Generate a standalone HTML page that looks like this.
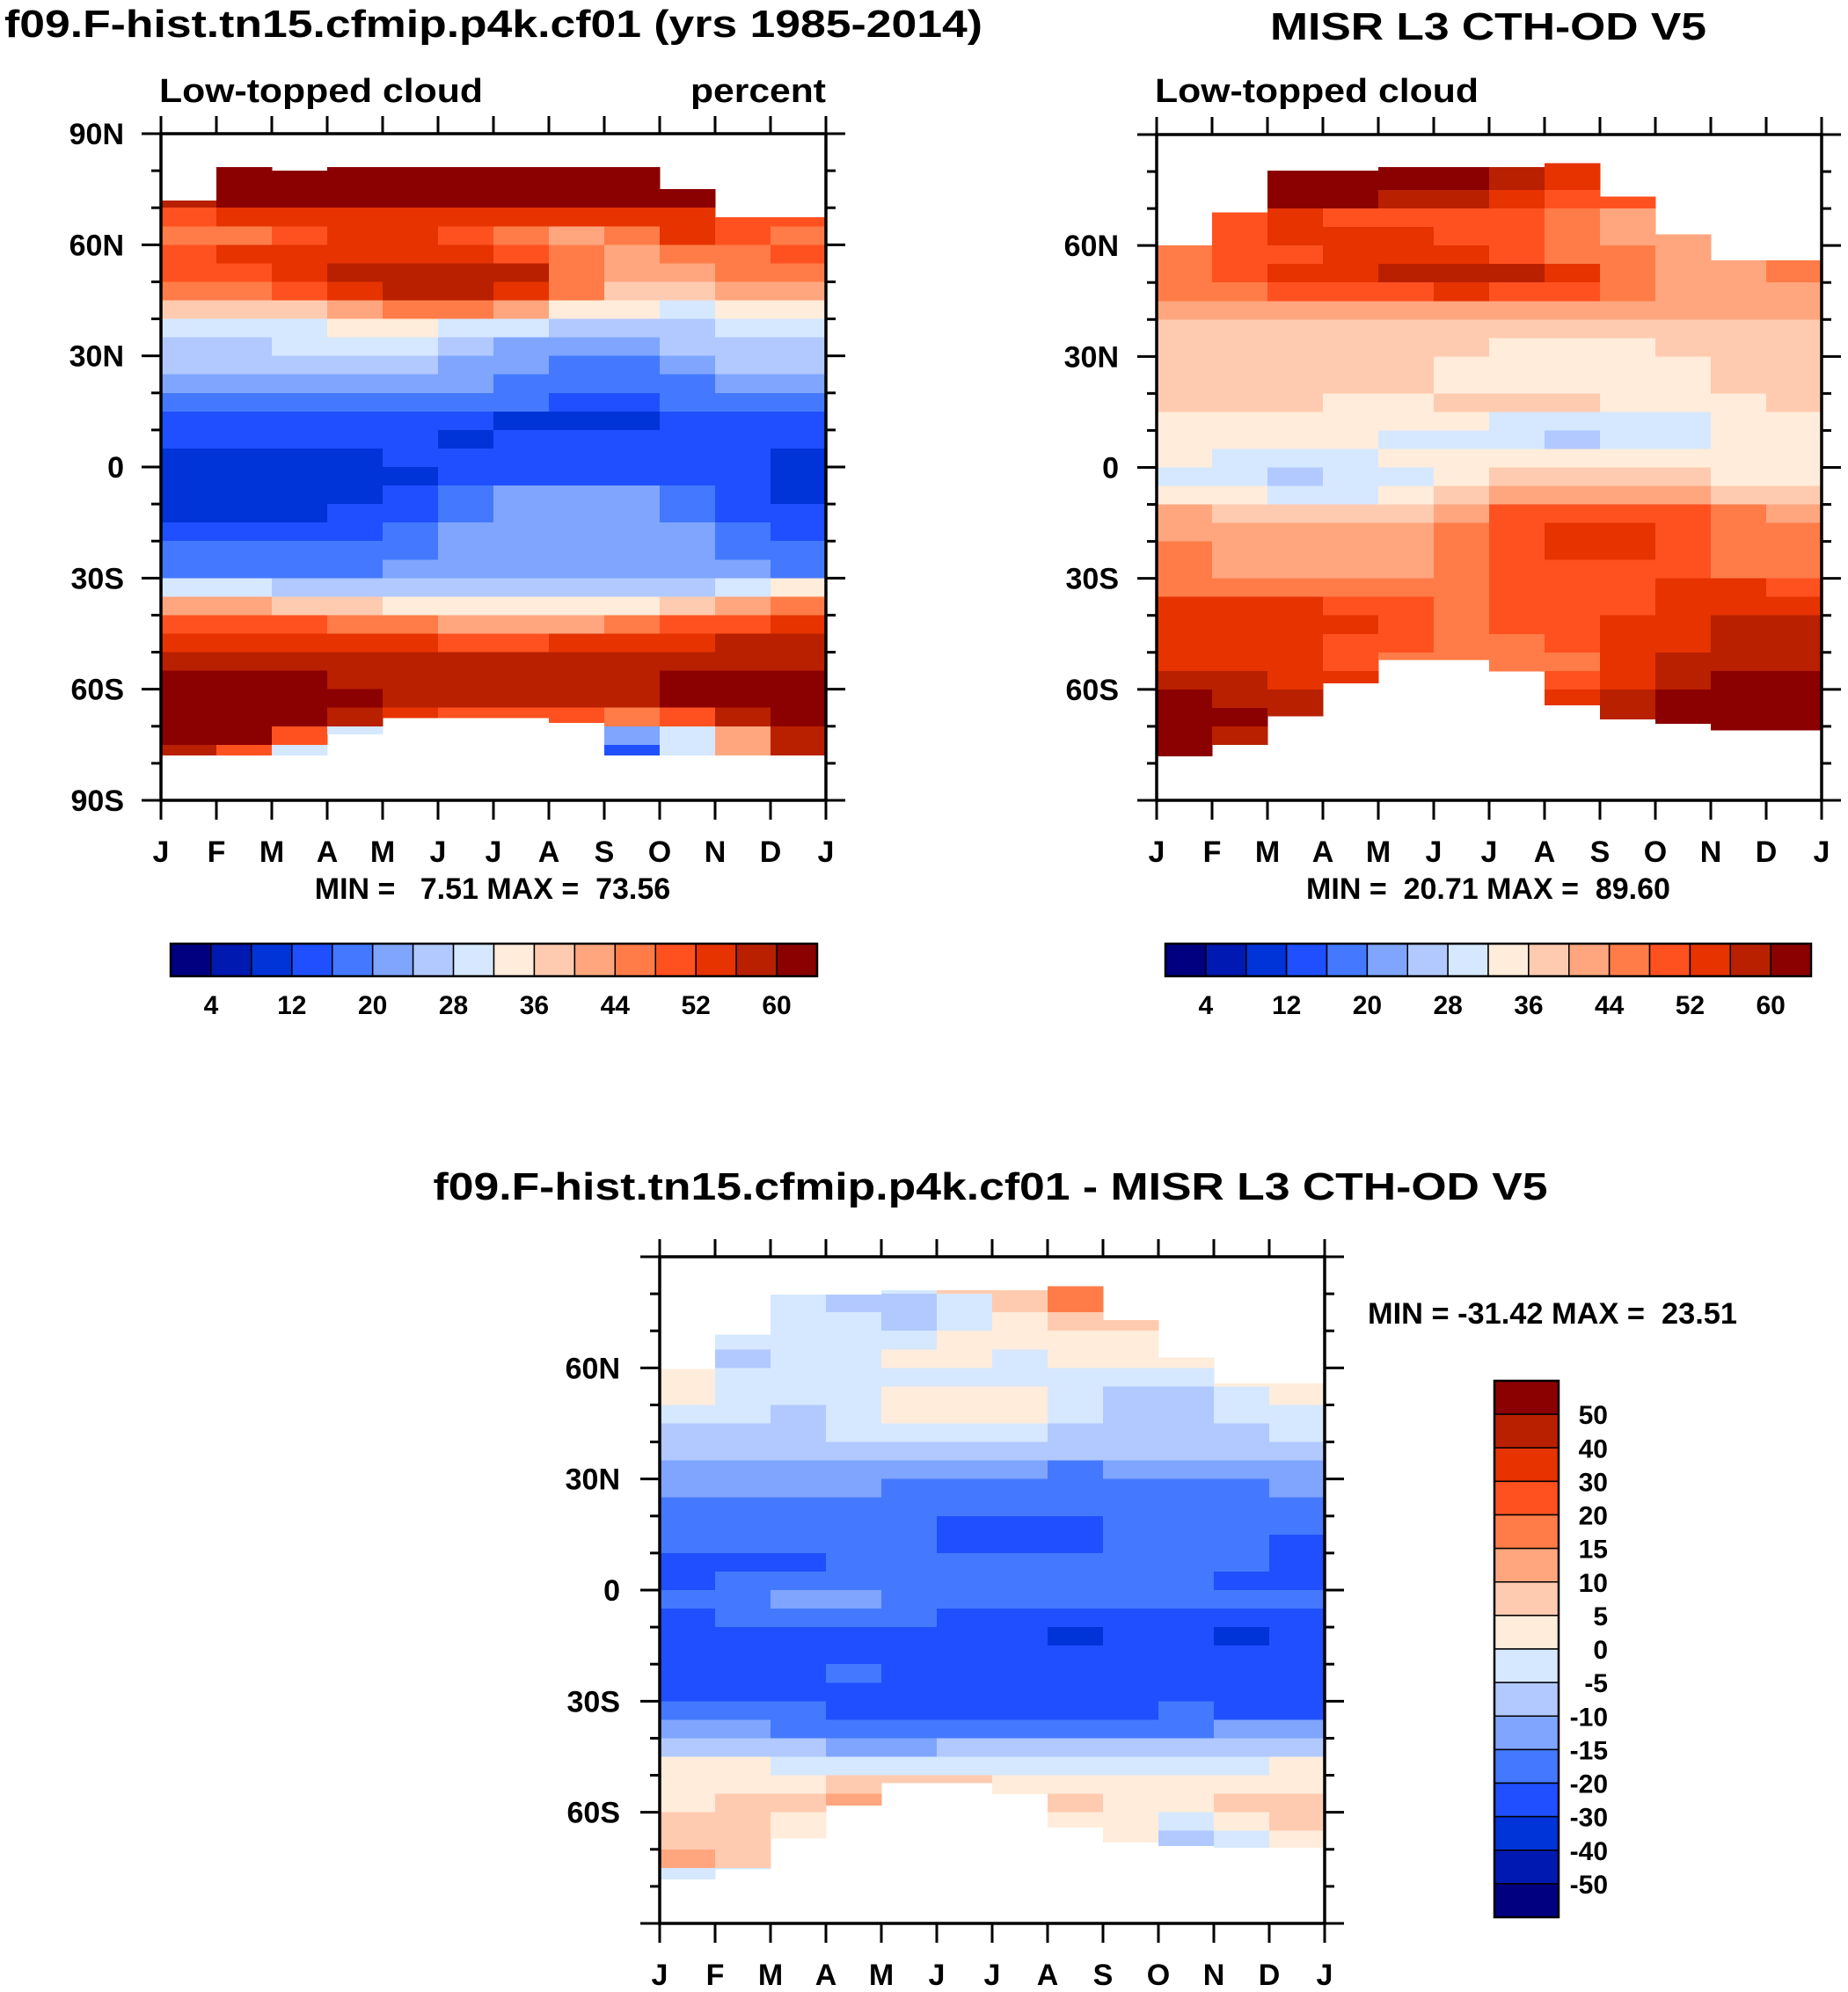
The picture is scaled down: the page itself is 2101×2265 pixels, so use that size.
<!DOCTYPE html>
<html><head><meta charset="utf-8"><style>
html,body{margin:0;padding:0;background:#fff}
svg{display:block;font-family:"Liberation Sans",sans-serif;font-weight:bold}
</style></head><body>
<svg id="root" width="2101" height="2265" viewBox="0 0 2101 2265">
<text x="5" y="42" font-size="44" textLength="1112" lengthAdjust="spacingAndGlyphs">f09.F-hist.tn15.cfmip.p4k.cf01 (yrs 1985-2014)</text>
<text x="1692" y="45" font-size="44" text-anchor="middle" textLength="496" lengthAdjust="spacingAndGlyphs">MISR L3 CTH-OD V5</text>
<text x="181" y="116" font-size="38" textLength="368" lengthAdjust="spacingAndGlyphs">Low-topped cloud</text>
<text x="939" y="116" font-size="38" text-anchor="end" textLength="154" lengthAdjust="spacingAndGlyphs">percent</text>
<text x="1313" y="116" font-size="38" textLength="368" lengthAdjust="spacingAndGlyphs">Low-topped cloud</text>
<text x="560" y="1022" font-size="34" text-anchor="middle" xml:space="preserve">MIN =   7.51 MAX =  73.56</text>
<text x="1692" y="1022" font-size="34" text-anchor="middle" xml:space="preserve">MIN =  20.71 MAX =  89.60</text>
<text x="1126" y="1364" font-size="44" text-anchor="middle" textLength="1267" lengthAdjust="spacingAndGlyphs">f09.F-hist.tn15.cfmip.p4k.cf01 - MISR L3 CTH-OD V5</text>
<text x="1555" y="1505" font-size="34" xml:space="preserve" textLength="420" lengthAdjust="spacingAndGlyphs">MIN = -31.42 MAX =  23.51</text>
</svg>
<script>
const palette=["#000080","#0019b0","#0033d8","#1f4fff","#4479ff","#7fa5ff","#b1c9ff","#d5e8ff","#ffecda","#ffcbb0","#ffa67f","#ff7c48","#ff5120","#e63300","#b82000","#8b0000"];
const months=["J","F","M","A","M","J","J","A","S","O","N","D","J"];
const latLabels=["90N","60N","30N","0","30S","60S","90S"];
const pctLevels=[4,8,12,16,20,24,28,32,36,40,44,48,52,56,60];
const diffLevels=[-50,-40,-30,-20,-15,-10,-5,0,5,10,15,20,30,40,50];
// rows: 5-degree bands from 90N (row 0) to 90S (row 35); 12 monthly columns
const modelTop=[72,81,80,81,81,81,81,81,81,75,67.5,67.5];
const modelBot=[-77.8,-77.8,-77.8,-72,-67.6,-67.6,-67.6,-69,-77.8,-77.8,-77.8,-77.8];
const modelGrid=[
[64,64,64,64,64,64,64,64,64,64,64,64],
[64,64,64,64,64,64,64,64,64,64,64,64],
[56,64,64,64,64,64,62,64,64,62,50,50],
[56,64,64,64,64,64,60,64,64,62,50,48],
[50,52,52,54,52,54,52,54,54,54,50,48],
[44,46,48,52,52,48,44,42,46,52,50,44],
[50,52,52,52,54,52,48,44,40,44,46,48],
[48,50,52,56,58,58,57,44,40,40,44,46],
[44,46,48,52,56,57,52,44,38,36,40,42],
[36,36,38,42,46,46,40,34,32,30,32,34],
[30,30,31,32,32,30,28,26,26,27,28,30],
[27,27,30,30,29,26,23,21,22,24,26,27],
[25,25,27,27,25,22,20,19,19,21,24,25],
[22,22,22,22,21,20,19,18,18,19,21,22],
[19,18,18,18,17,17,16,15,15,16,17,19],
[14,14,14,14,14,13,11,10,11,13,14,14],
[13,13,13,12,12,11,12,13,13,12,13,13],
[11,11,11,11,12,13,15,15,15,14,12,11],
[10,10,10,10,11,13,15,15,15,14,12,11],
[10,9,9,10,12,17,20,20,20,16,12,10],
[11,10,10,12,14,18,21,22,21,18,14,12],
[14,14,14,15,17,21,22,22,22,20,16,15],
[17,17,17,17,18,22,22,22,22,20,18,17],
[19,19,19,19,20,23,23,23,23,22,20,19],
[30,28,26,25,25,25,25,25,26,27,30,32],
[42,40,38,36,34,33,32,33,35,38,42,44],
[50,50,48,46,44,42,42,43,45,48,50,52],
[54,54,54,54,52,50,50,52,54,54,56,56],
[58,58,58,58,58,57,57,56,58,58,58,58],
[62,62,60,58,58,58,57,57,58,60,62,62],
[64,64,62,60,58,58,58,57,58,60,64,64],
[64,64,62,56,52,50,50,48,44,50,58,62],
[64,60,50,30,30,30,30,30,20,30,40,56],
[58,48,30,20,20,20,20,20,14,30,40,56],
[58,48,30,20,20,20,20,20,14,30,40,56],
[58,48,30,20,20,20,20,20,14,30,40,56]];
const obsTop=[60,69,80.3,80.3,81.2,81.2,81.2,82.3,73.2,63,56,56];
const obsBot=[-78,-74.9,-67.2,-58.2,-51.9,-51.9,-55,-64.2,-68,-69.2,-71,-71];
const obsGrid=[
[62,62,62,62,62,62,58,52,50,44,44,46],
[62,62,62,62,62,62,58,52,50,44,44,46],
[52,52,62,62,62,62,57,54,52,44,44,46],
[52,52,60,60,58,56,52,50,48,44,44,46],
[50,50,52,50,50,50,48,44,42,42,44,46],
[46,48,52,52,52,50,48,44,42,42,44,46],
[46,48,50,53,53,52,50,46,44,42,42,44],
[46,50,54,54,56,57,56,52,46,42,42,44],
[44,46,50,50,50,52,50,48,44,42,42,42],
[40,41,42,42,42,42,42,40,40,40,40,41],
[38,38,38,38,38,37,36,36,36,37,38,38],
[38,38,38,38,38,36,35,34,34,36,37,38],
[38,38,38,38,37,35,34,32,34,34,36,37],
[38,38,37,37,36,34,34,35,35,34,36,37],
[37,37,36,35,35,36,36,36,35,34,34,36],
[34,34,34,34,34,32,30,30,30,30,32,34],
[34,34,33,32,31,30,29,27,28,30,33,34],
[32,31,31,31,32,35,35,35,34,35,35,34],
[31,29,26,28,30,34,36,38,38,36,34,34],
[35,32,30,30,32,36,40,42,42,40,38,38],
[40,38,36,37,39,42,48,50,50,48,44,42],
[42,42,40,40,40,44,50,54,52,50,46,44],
[44,42,40,40,40,46,50,53,52,50,46,44],
[44,42,42,40,42,44,48,50,50,50,46,46],
[46,46,46,46,44,44,48,50,50,52,52,50],
[52,52,52,50,48,46,48,50,50,52,54,54],
[55,55,54,52,48,44,48,48,52,54,57,57],
[54,54,52,50,48,44,46,48,52,54,57,57],
[52,52,52,50,46,44,44,46,52,56,57,57],
[57,56,55,54,50,50,50,50,52,56,60,60],
[60,58,58,56,52,52,52,52,56,60,62,62],
[62,60,58,56,52,52,52,54,56,62,62,62],
[62,58,58,56,52,52,52,54,56,62,62,62],
[62,58,58,56,52,52,52,54,56,62,62,62],
[62,58,58,56,52,52,52,54,56,62,62,62],
[62,58,58,56,52,52,52,54,56,62,62,62]];
const diffTop=[59.7,69,79.8,79.8,81,81,81,82,72.9,62.8,55.8,55.8];
const diffBot=[-78,-75.2,-66.9,-58,-52,-52,-55,-64,-68,-69,-69.4,-69.4];
const diffGrid=[
[0,0,-3,-5,-3,5,8,18,0,0,0,0],
[0,0,-3,-5,-3,5,8,18,0,0,0,0],
[0,0,-3,-6,-7,-2,8,15,6,0,0,0],
[0,0,-3,-4,-8,-2,3,8,6,0,0,0],
[0,-3,-3,-3,-4,2,3,3,3,0,0,0],
[0,-7,-4,-2,2,2,-2,1,2,4,0,0],
[2,-3,-3,-3,-3,-3,-2,-3,-2,-2,2,3],
[3,-1,-3,-4,2,3,2,-2,-6,-6,-2,3],
[-3,-3,-6,-3,1,3,2,-3,-7,-7,-4,-2],
[-6,-6,-8,-5,-3,-2,-3,-6,-8,-7,-6,-4],
[-8,-9,-8,-9,-6,-7,-9,-10,-8,-7,-8,-8],
[-13,-12,-11,-11,-12,-12,-11,-16,-13,-12,-12,-12],
[-14,-14,-15,-15,-16,-17,-17,-16,-18,-17,-16,-14],
[-17,-17,-17,-17,-17,-18,-18,-18,-18,-18,-18,-18],
[-18,-18,-18,-18,-19,-22,-22,-22,-19,-18,-18,-19],
[-19,-19,-19,-19,-19,-21,-22,-21,-19,-19,-19,-21],
[-21,-21,-21,-19,-18,-18,-18,-18,-17,-18,-19,-22],
[-22,-18,-18,-18,-18,-18,-18,-18,-18,-18,-21,-21],
[-19,-18,-15,-15,-18,-18,-18,-18,-18,-18,-19,-19],
[-22,-20,-19,-19,-20,-22,-22,-22,-22,-22,-22,-22],
[-24,-24,-24,-24,-24,-25,-25,-32,-25,-24,-32,-24],
[-24,-24,-24,-24,-24,-24,-24,-24,-24,-24,-24,-24],
[-24,-24,-24,-19,-24,-24,-24,-24,-24,-24,-24,-24],
[-24,-24,-24,-24,-24,-24,-24,-24,-24,-24,-24,-24],
[-19,-19,-20,-24,-24,-24,-24,-24,-22,-19,-24,-24],
[-14,-14,-17,-18,-18,-18,-18,-18,-18,-18,-14,-14],
[-8,-8,-9,-11,-11,-10,-9,-9,-9,-9,-9,-7],
[2,2,-3,-3,-3,-2,-2,-3,-3,-3,-3,1],
[3,3,4,6,7,8,4,3,2,2,3,3],
[4,6,7,12,3,3,3,6,3,2,6,6],
[7,6,4,3,3,3,3,3,2,-3,3,7],
[6,8,2,2,2,2,2,0,0,-8,-3,3],
[12,8,2,2,2,2,2,0,0,-3,-6,6],
[-5,-3,2,2,2,2,2,0,0,-3,-6,-7],
[-5,-3,2,2,2,2,2,0,0,-3,-6,-7],
[-5,-3,2,2,2,2,2,0,0,-3,-6,-7]];
const pctCbLabels=["4","12","20","28","36","44","52","60"];
const diffCbLabels=["50","40","30","20","15","10","5","0","-5","-10","-15","-20","-30","-40","-50"];

const NS="http://www.w3.org/2000/svg";
const root=document.getElementById('root');
function mk(tag,attrs,parent){const e=document.createElementNS(NS,tag);for(const k in attrs)e.setAttribute(k,attrs[k]);(parent||root).appendChild(e);return e;}
function levelIndex(v,levels){let i=0;while(i<levels.length&&v>=levels[i])i++;return i;}

function drawPanel(name,grid,topLat,botLat,levels,x0,y0,w,h,showPoles,labelX){
  const g=mk('g',{});
  
  
  const xs=c=>x0+c*w/12;
  const ys=lat=>y0+(90-lat)*h/180;
  for(let r=0;r<grid.length;r++){
    const la1=90-5*r, la2=85-5*r;
    for(let c=0;c<12;c++){
      const t=Math.min(la1,topLat[c]), b=Math.max(la2,botLat[c]);
      if(t<=b)continue;
      const v=grid[r][c];
      const rc=mk('rect',{x:xs(c),y:ys(t),width:w/12+0.6,height:ys(b)-ys(t)+0.6,fill:palette[levelIndex(v,levels)],'shape-rendering':'crispEdges'},g);
      
      
    }
  }
  const fr=mk('rect',{x:x0,y:y0,width:w,height:h,fill:'none',stroke:'#000','stroke-width':3.5});
  
  
  for(let lat=90;lat>=-90;lat-=10){
    const y=ys(lat), major=(lat%30===0), L=major?22:11;
    mk('line',{x1:x0-L,x2:x0,y1:y,y2:y,stroke:'#000','stroke-width':3});
    mk('line',{x1:x0+w,x2:x0+w+L,y1:y,y2:y,stroke:'#000','stroke-width':3});
    if(major){
      const idx=(90-lat)/30;
      if(!showPoles&&(idx===0||idx===6))continue;
      const t=mk('text',{x:labelX,y:y+12,'font-size':34,'text-anchor':'end'});
      t.textContent=latLabels[idx];
      
      
    }
  }
  for(let m=0;m<=12;m++){
    const x=xs(m);
    mk('line',{x1:x,x2:x,y1:y0-20,y2:y0,stroke:'#000','stroke-width':3});
    mk('line',{x1:x,x2:x,y1:y0+h,y2:y0+h+22,stroke:'#000','stroke-width':3});
    const t=mk('text',{x:x,y:y0+h+70,'font-size':34,'text-anchor':'middle'});
    t.textContent=months[m];
    
    
  }
}
function hColorbar(name,x0,y0,w,h){
  const g=mk('g',{});
  
  
  const bw=w/16;
  for(let i=0;i<16;i++){
    const r=mk('rect',{x:x0+i*bw,y:y0,width:bw,height:h,fill:palette[i],stroke:'#000','stroke-width':1.5},g);
    
    
  }
  mk('rect',{x:x0,y:y0,width:w,height:h,fill:'none',stroke:'#000','stroke-width':2.5},g);
  pctCbLabels.forEach((s,k)=>{
    const t=mk('text',{x:x0+(1+2*k)*bw,y:y0+h+43,'font-size':30,'text-anchor':'middle'},g);
    t.textContent=s;
    
    
  });
}
function vColorbar(name,x0,y0,w,h){
  const g=mk('g',{});
  
  
  const bh=h/16;
  for(let i=0;i<16;i++){
    const r=mk('rect',{x:x0,y:y0+i*bh,width:w,height:bh,fill:palette[15-i],stroke:'#000','stroke-width':1.5},g);
    
    
  }
  mk('rect',{x:x0,y:y0,width:w,height:h,fill:'none',stroke:'#000','stroke-width':2.5},g);
  diffCbLabels.forEach((s,k)=>{
    const t=mk('text',{x:1828,y:y0+(k+1)*bh+11,'font-size':30,'text-anchor':'end'},g);
    t.textContent=s;
    
    
  });
}
drawPanel('model',modelGrid,modelTop,modelBot,pctLevels,183,152,756,758,true,141);
drawPanel('obs',obsGrid,obsTop,obsBot,pctLevels,1315,153,756,757,false,1272);
drawPanel('diff',diffGrid,diffTop,diffBot,diffLevels,750,1429,756,758,false,705);
hColorbar('model-colorbar',194,1073,735,37);
hColorbar('obs-colorbar',1325,1073,734,37);
vColorbar('diff-colorbar',1699,1570,73,610);
</script>
</body></html>
